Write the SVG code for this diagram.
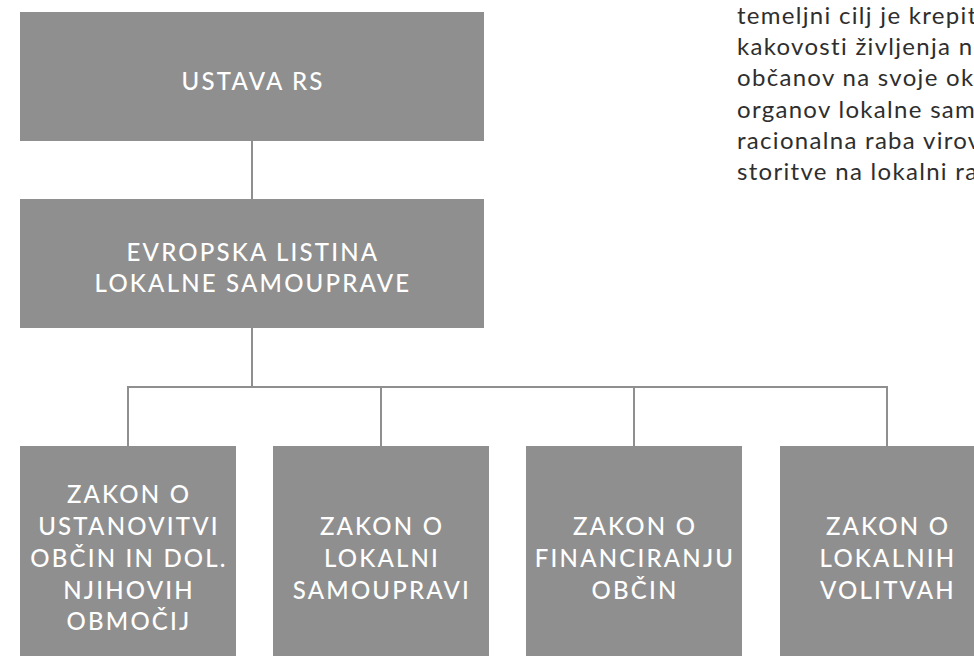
<svg xmlns="http://www.w3.org/2000/svg" width="974" height="656" viewBox="0 0 974 656">
<style>
.box{fill:#8f8f8f}
.bt{font-family:Lato,"Noto Sans",sans-serif;font-size:24px;font-weight:500;fill:#ffffff;text-anchor:middle;letter-spacing:2.2px}
.conn{stroke:#8f8f8f;stroke-width:2;fill:none}
.para{font-family:Lato,"Noto Sans",sans-serif;font-size:24px;fill:#2e2e2e;letter-spacing:1.3px}
</style>
<rect width="974" height="656" fill="#ffffff"/>
<g id="connectors">
<line class="conn" x1="252" y1="141" x2="252" y2="199"/>
<line class="conn" x1="252" y1="328" x2="252" y2="387"/>
<polyline class="conn" points="128,446 128,387 887,387 887,446"/>
<line class="conn" x1="381" y1="387" x2="381" y2="446"/>
<line class="conn" x1="634" y1="387" x2="634" y2="446"/>
</g>
<g id="ustava">
<rect class="box" x="20" y="12" width="464" height="129"/>
<text class="bt" x="253" y="90">USTAVA RS</text>
</g>
<g id="evropska">
<rect class="box" x="20" y="199" width="464" height="129"/>
<text class="bt" x="253" y="261">EVROPSKA LISTINA</text>
<text class="bt" x="253" y="292">LOKALNE SAMOUPRAVE</text>
</g>
<g id="zakon-ustanovitvi">
<rect class="box" x="20" y="446" width="216" height="210"/>
<text class="bt" x="129" y="503">ZAKON O</text>
<text class="bt" x="129" y="535">USTANOVITVI</text>
<text class="bt" x="129" y="567">OBČIN IN DOL.</text>
<text class="bt" x="129" y="599">NJIHOVIH</text>
<text class="bt" x="129" y="630">OBMOČIJ</text>
</g>
<g id="zakon-samoupravi">
<rect class="box" x="273" y="446" width="216" height="210"/>
<text class="bt" x="382" y="535">ZAKON O</text>
<text class="bt" x="382" y="567">LOKALNI</text>
<text class="bt" x="382" y="599">SAMOUPRAVI</text>
</g>
<g id="zakon-financiranju">
<rect class="box" x="526" y="446" width="216" height="210"/>
<text class="bt" x="635" y="535">ZAKON O</text>
<text class="bt" x="635" y="567">FINANCIRANJU</text>
<text class="bt" x="635" y="599">OBČIN</text>
</g>
<g id="zakon-volitvah">
<rect class="box" x="780" y="446" width="214" height="210"/>
<text class="bt" x="888" y="535">ZAKON O</text>
<text class="bt" x="888" y="567">LOKALNIH</text>
<text class="bt" x="888" y="599">VOLITVAH</text>
</g>
<g id="paragraph">
<text class="para" x="737" y="24">temeljni cilj je krepit</text>
<text class="para" x="737" y="55">kakovosti življenja na</text>
<text class="para" x="737" y="86">občanov na svoje ok</text>
<text class="para" x="737" y="118">organov lokalne sam</text>
<text class="para" x="737" y="149">racionalna raba virov</text>
<text class="para" x="737" y="180">storitve na lokalni ra</text>
</g>
</svg>
